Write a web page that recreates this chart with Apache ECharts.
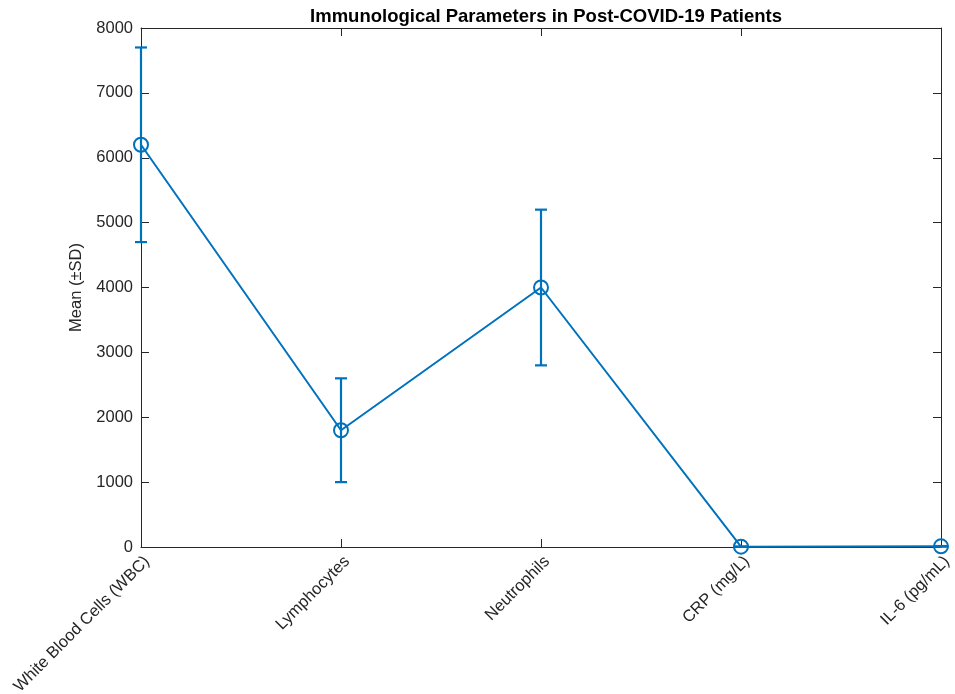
<!DOCTYPE html>
<html>
<head>
<meta charset="utf-8">
<script src="https://cdn.jsdelivr.net/npm/echarts@6/dist/echarts.min.js"></script>
<style>
  html, body { margin: 0; padding: 0; background: #fff; }
  #chart { width: 955px; height: 694px; }
</style>
</head>
<body>
<div id="chart"></div>
<script>
// data
const categories = ['White Blood Cells (WBC)', 'Lymphocytes', 'Neutrophils', 'CRP (mg/L)', 'IL-6 (pg/mL)'];
const means = [6200, 1800, 4000, 5, 10];
const sds = [1500, 800, 1200, 3, 5];

const blue = '#0072BD';
const axisColor = '#262626';
const font = 'Liberation Sans, Arial';

const chart = echarts.init(document.getElementById('chart'));

const errData = categories.map((c, i) => [i, means[i] - sds[i], means[i] + sds[i]]);

function renderErr(params, api) {
  const lo = api.coord([api.value(0), api.value(1)]);
  const hi = api.coord([api.value(0), api.value(2)]);
  const cap = 6;
  const style = { stroke: blue, lineWidth: 2.2, fill: null };
  return {
    type: 'group',
    children: [
      { type: 'line', shape: { x1: lo[0], y1: lo[1], x2: hi[0], y2: hi[1] }, style },
      { type: 'line', shape: { x1: lo[0] - cap, y1: lo[1], x2: lo[0] + cap, y2: lo[1] }, style },
      { type: 'line', shape: { x1: hi[0] - cap, y1: hi[1], x2: hi[0] + cap, y2: hi[1] }, style }
    ]
  };
}

const tickStyle = { show: true, inside: true, length: 8, lineStyle: { color: axisColor, width: 1 } };
const lineStyle = { show: true, onZero: false, lineStyle: { color: axisColor, width: 1 } };

chart.setOption({
  animation: false,
  title: {
    text: 'Immunological Parameters in Post-COVID-19 Patients',
    left: 541,
    textAlign: 'center',
    top: 2,
    textStyle: { fontFamily: font, fontSize: 18.5, fontWeight: 'bold', color: '#000' }
  },
  grid: { left: 141, right: 14, top: 28, bottom: 147, containLabel: false, outerBoundsMode: 'none' },
  xAxis: [
    {
      type: 'category',
      data: categories,
      boundaryGap: false,
      axisLine: lineStyle,
      axisTick: tickStyle,
      axisLabel: {
        rotate: 45,
        margin: 6,
        verticalAlign: 'top',
        fontFamily: font,
        fontSize: 16.5,
        color: axisColor
      }
    },
    {
      type: 'category',
      data: categories,
      boundaryGap: false,
      position: 'top',
      axisLine: lineStyle,
      axisTick: tickStyle,
      axisLabel: { show: false }
    }
  ],
  yAxis: [
    {
      type: 'value',
      min: 0,
      max: 8000,
      interval: 1000,
      name: 'Mean (±SD)',
      nameLocation: 'middle',
      nameGap: 51,
      nameTextStyle: { fontFamily: font, fontSize: 16.5, color: axisColor },
      axisLine: lineStyle,
      axisTick: tickStyle,
      splitLine: { show: false },
      axisLabel: { fontFamily: font, fontSize: 16.5, color: axisColor, margin: 8, formatter: v => String(v) }
    },
    {
      type: 'value',
      min: 0,
      max: 8000,
      interval: 1000,
      position: 'right',
      axisLine: lineStyle,
      axisTick: tickStyle,
      splitLine: { show: false },
      axisLabel: { show: false }
    }
  ],
  series: [
    {
      type: 'custom',
      renderItem: renderErr,
      data: errData,
      encode: { x: 0, y: [1, 2] },
      z: 2
    },
    {
      type: 'line',
      data: means,
      symbol: 'circle',
      symbolSize: 14,
      showSymbol: true,
      lineStyle: { color: blue, width: 2 },
      itemStyle: { color: 'rgba(0,0,0,0)', borderColor: blue, borderWidth: 2 },
      z: 3
    }
  ]
});
</script>
</body>
</html>
